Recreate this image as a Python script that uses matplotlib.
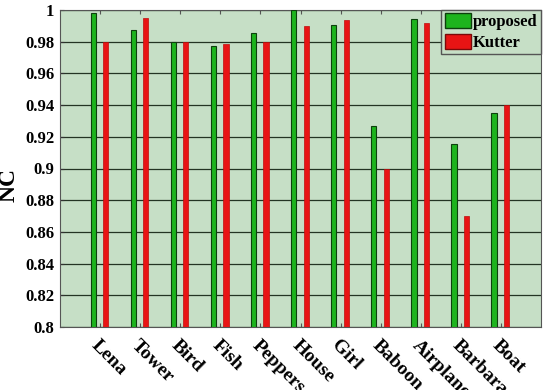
import matplotlib
matplotlib.use("Agg")
import matplotlib.pyplot as plt
import numpy as np
from matplotlib.patches import Patch

categories = ["Lena", "Tower", "Bird", "Fish", "Peppers", "House", "Girl",
              "Baboon", "Airplane", "Barbara", "Boat"]
proposed = [0.9983, 0.9874, 0.980, 0.9775, 0.9857, 1.000, 0.9905,
            0.927, 0.9941, 0.9153, 0.935]
kutter = [0.980, 0.9951, 0.980, 0.9785, 0.980, 0.990, 0.9937,
          0.900, 0.992, 0.870, 0.940]
yticks = [0.8, 0.82, 0.84, 0.86, 0.88, 0.9, 0.92, 0.94, 0.96, 0.98, 1]
ytick_labels = ["0.8", "0.82", "0.84", "0.86", "0.88", "0.9", "0.92",
                "0.94", "0.96", "0.98", "1"]

plt.rcParams['font.family'] = ['Liberation Serif', 'DejaVu Serif']
plt.rcParams['font.weight'] = 'bold'

fig = plt.figure(figsize=(5.43, 3.90), dpi=100)
ax = fig.add_axes([60/543, 1-327/390, 481/543, 317/390])
ax.set_facecolor('#c6dfc6')

x = np.arange(1, len(categories) + 1)
w = 0.13
ax.bar(x - 0.17, proposed, width=w, color='#1db41d', edgecolor='#0d400d',
       linewidth=0.8, zorder=3, label='proposed')
ax.bar(x + 0.14, kutter, width=w, color='#e81414', edgecolor='#c00c0c',
       linewidth=0.5, zorder=3, label='Kutter')

ax.set_xlim(0, 12)
ax.set_ylim(0.8, 1.0)
ax.set_yticks(yticks)
ax.set_yticklabels(ytick_labels, fontsize=12, fontweight='bold')
ax.set_xticks(x)
ax.set_xticklabels(categories, rotation=-45, ha='left', va='top',
                   rotation_mode='anchor', fontsize=14, fontweight='bold')
ax.tick_params(axis='x', direction='in', length=3, top=True, pad=7, color='#555555')
ax.tick_params(axis='y', direction='in', length=3, pad=4, color='#333333')
ax.yaxis.grid(True, color='#243424', linewidth=0.9, zorder=1)
ax.set_axisbelow(True)
for s in ax.spines.values():
    s.set_color('#555555')
    s.set_linewidth(0.8)

ax.set_ylabel('NC', fontsize=17, fontweight='bold')
ax.yaxis.set_label_coords(-0.085, 0.448)

handles = [Patch(facecolor='#1db41d', edgecolor='#0d400d'),
           Patch(facecolor='#e81414', edgecolor='#7a0a0a')]
leg = ax.legend(handles, ['proposed', 'Kutter'], loc='upper right',
                prop={'family': 'Liberation Serif', 'weight': 'bold', 'size': 12},
                frameon=True, fancybox=False, borderaxespad=0.0,
                handlelength=1.55, handleheight=1.0, handletextpad=0.15,
                labelspacing=0.2, borderpad=0.2)
leg.get_frame().set_facecolor('#c6dfc6')
leg.get_frame().set_edgecolor('#555555')
leg.get_frame().set_alpha(1)

fig.savefig('out.png', dpi=100)
